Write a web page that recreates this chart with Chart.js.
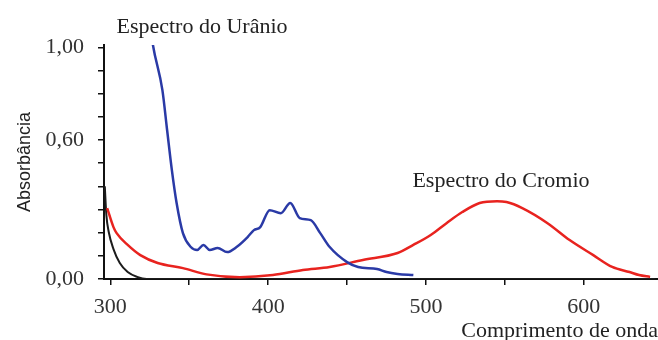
<!DOCTYPE html>
<html>
<head>
<meta charset="utf-8">
<script src="https://cdn.jsdelivr.net/npm/chart.js@4.4.1/dist/chart.umd.min.js"></script>
<style>
  html, body { margin: 0; padding: 0; background: #fff; }
  #wrap { width: 658px; height: 340px; }
</style>
</head>
<body>
<div id="wrap"><canvas id="myChart" width="658" height="340"></canvas></div>
<script>
// values (nm, absorbance)
const uranioNm  = [326, 327, 333, 336, 339, 342, 346, 351, 355, 359, 363, 368, 374, 380, 387, 391, 395, 401, 408, 414, 420, 427, 433, 439, 450, 457, 469, 475, 482, 492];
const uranioAbs = [1.06, 1.01, 0.815, 0.642, 0.47, 0.328, 0.198, 0.138, 0.125, 0.147, 0.125, 0.134, 0.116, 0.138, 0.181, 0.211, 0.224, 0.297, 0.284, 0.328, 0.263, 0.254, 0.198, 0.138, 0.073, 0.052, 0.043, 0.03, 0.022, 0.017];

const cromioNm  = [298, 302, 304, 311, 319, 330, 346, 361, 382, 403, 422, 439, 460, 482, 492, 503, 513, 523, 534, 545, 551, 561, 577, 591, 606, 618, 629, 635, 642];
const cromioAbs = [0.306, 0.224, 0.198, 0.147, 0.103, 0.069, 0.047, 0.02, 0.008, 0.017, 0.039, 0.052, 0.082, 0.112, 0.147, 0.19, 0.241, 0.289, 0.328, 0.336, 0.332, 0.306, 0.241, 0.168, 0.103, 0.052, 0.03, 0.017, 0.009];

const brancoNm  = [296.5, 297.5, 299, 302, 306, 311, 317, 323, 400, 500, 645];
const brancoAbs = [0.40, 0.276, 0.203, 0.129, 0.069, 0.03, 0.009, 0.0, 0.0, 0.0, 0.0];

const xTicks = [300, 350, 400, 450, 500, 550, 600];
const xLabels = [300, 400, 500, 600];
const yTicks = [0, 0.1, 0.2, 0.3, 0.4, 0.5, 0.6, 0.7, 0.8, 0.9, 1.0];
const yLabels = { "0": "0,00", "0.6": "0,60", "1": "1,00" };

function pts(xs, ys) {
  return xs.map((x, i) => ({ x: x, y: ys[i] }));
}

// labels on the plot
const notes = {
  id: "notes",
  afterDraw(chart) {
    const c = chart.ctx;
    c.save();
    c.fillStyle = "#222";
    c.font = "22px 'Liberation Serif'";
    c.textAlign = "center";
    c.textBaseline = "middle";
    c.fillText("Espectro do Urânio", 202, 27);
    c.fillText("Espectro do Cromio", 501, 181);
    c.restore();
  }
};

const ctx = document.getElementById("myChart");

new Chart(ctx, {
  type: "line",
  data: {
    datasets: [
      {
        label: "Urânio",
        data: pts(uranioNm, uranioAbs),
        borderColor: "#2a3aa6",
        borderWidth: 2.5,
        pointRadius: 0,
        cubicInterpolationMode: "monotone",
      },
      {
        label: "Cromio",
        data: pts(cromioNm, cromioAbs),
        borderColor: "#e8231f",
        borderWidth: 2.5,
        pointRadius: 0,
        cubicInterpolationMode: "monotone",
      },
      {
        label: "branco",
        data: pts(brancoNm, brancoAbs),
        borderColor: "#1c1c1c",
        borderWidth: 2,
        pointRadius: 0,
        cubicInterpolationMode: "monotone",
      },
    ],
  },
  options: {
    responsive: false,
    animation: false,
    layout: { padding: { top: 45, right: 0, left: 0, bottom: 0 } },
    plugins: { legend: { display: false }, tooltip: { enabled: false } },
    scales: {
      x: {
        type: "linear",
        min: 296,
        max: 647,
        afterFit: (s) => { s.height = 61; },
        afterBuildTicks: (s) => { s.ticks = xTicks.map((v) => ({ value: v })); },
        border: { display: true, color: "#111", width: 2 },
        grid: { drawOnChartArea: false, drawTicks: true, tickLength: 6, color: "#111", lineWidth: 1.5 },
        ticks: {
          autoSkip: false,
          maxRotation: 0,
          padding: 9,
          color: "#333",
          font: { family: "'Liberation Serif'", size: 22 },
          callback: (v) => (xLabels.includes(v) ? String(v) : ""),
        },
        title: {
          display: true,
          text: "Comprimento de onda",
          align: "end",
          color: "#222",
          font: { family: "'Liberation Serif'", size: 22 },
          padding: { top: 0, bottom: -4 },
        },
      },
      y: {
        min: 0,
        max: 1.01,
        afterFit: (s) => { s.width = 104; },
        afterBuildTicks: (s) => { s.ticks = yTicks.map((v) => ({ value: v })); },
        border: { display: true, color: "#111", width: 2 },
        grid: { drawOnChartArea: false, drawTicks: true, tickLength: 6, color: "#111", lineWidth: 1.5 },
        ticks: {
          autoSkip: false,
          padding: 14,
          color: "#333",
          font: { family: "'Liberation Serif'", size: 22 },
          callback: (v) => yLabels[String(Math.round(v * 10) / 10)] || "",
        },
        title: {
          display: true,
          text: "Absorbância",
          color: "#222",
          font: { family: "'Liberation Sans'", size: 18 },
          padding: { top: 14, bottom: 0 },
        },
      },
    },
  },
  plugins: [notes],
});
</script>
</body>
</html>
